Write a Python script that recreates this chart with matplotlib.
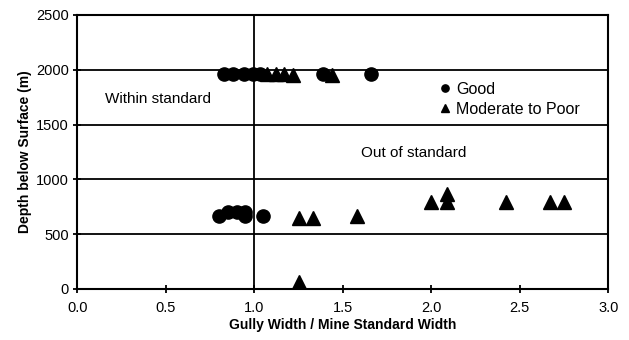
import matplotlib.pyplot as plt
import numpy as np

plt.rcParams['font.family'] = ['Liberation Sans', 'DejaVu Sans']

# Gully width ratio vs depth, grouped by condition
good_x = [0.83, 0.88, 0.94, 0.99, 1.03, 1.39, 1.66,
          0.80, 0.85, 0.90, 0.95, 0.95, 1.05]
good_y = [1965, 1965, 1965, 1965, 1965, 1965, 1965,
          670, 700, 700, 700, 670, 670]

poor_x = [1.07, 1.12, 1.17, 1.22, 1.44,
          1.25, 1.33, 1.58,
          2.00, 2.09, 2.09, 2.42, 2.67, 2.75,
          1.25]
poor_y = [1960, 1960, 1960, 1950, 1950,
          650, 650, 665,
          790, 790, 870, 790, 790, 790,
          60]

fig = plt.figure(figsize=(6.29, 3.40), dpi=100)
ax = fig.add_axes([0.123, 0.150, 0.844, 0.806])

# horizontal grid and the standard-width divider
for yv in np.arange(500, 2501, 500):
    ax.axhline(yv, color='black', lw=1.3, zorder=1)
ax.axvline(1.0, color='black', lw=1.3, zorder=1)

ax.plot(good_x, good_y, 'o', color='black', ms=9.5, ls='none',
        label='Good', zorder=3)
ax.plot(poor_x, poor_y, '^', color='black', ms=10, ls='none',
        label='Moderate to Poor', zorder=3)

ax.set_xlim(0, 3.0)
ax.set_ylim(0, 2500)
ax.set_xticks(np.arange(0, 3.01, 0.5))
ax.set_xticklabels(['0.0', '0.5', '1.0', '1.5', '2.0', '2.5', '3.0'])
ax.set_yticks(np.arange(0, 2501, 500))
ax.tick_params(direction='inout', length=6, width=1.3, labelsize=10.5)
ax.tick_params(axis='x', pad=6)
ax.tick_params(axis='y', pad=3)

for s in ax.spines.values():
    s.set_linewidth(1.5)

ax.set_xlabel('Gully Width / Mine Standard Width', fontsize=10,
              fontweight='bold', labelpad=2)
ax.set_ylabel('Depth below Surface (m)', fontsize=10, fontweight='bold',
              labelpad=3)

ax.text(0.155, 1730, 'Within standard', fontsize=11, va='center')
ax.text(1.6, 1240, 'Out of standard', fontsize=11, va='center')

ax.legend(loc='upper left', bbox_to_anchor=(0.66, 0.785), frameon=False,
          markerscale=0.55, fontsize=11.5, handletextpad=0.1,
          handlelength=1.2, labelspacing=0.3, borderpad=0)

plt.savefig('out.png', dpi=100)
